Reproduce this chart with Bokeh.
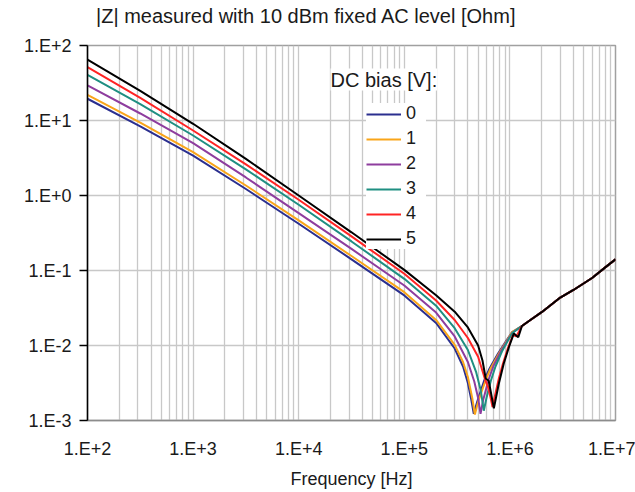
from bokeh.plotting import figure
from bokeh.models import FixedTicker, CustomJSTickFormatter, Legend, LegendItem, Label, Div
from bokeh.layouts import column
from bokeh.embed import file_html
from bokeh.resources import INLINE

# ---- data ----
bias_labels = ["0", "1", "2", "3", "4", "5"]

freq_0 = [100, 316, 1e3, 3162, 1e4, 31623, 1e5, 2e5, 3e5, 3.6e5, 4e5, 4.3e5, 4.55e5, 4.9e5, 5.7e5, 6.4e5, 7.7e5, 9.3e5, 1.05e6, 1.3e6]
z_0 = [19.5, 8.37, 3.41, 1.22, 0.420, 0.141, 0.0465, 0.0200, 0.00912, 0.00525, 0.00316, 0.00191, 0.00123, 0.00178, 0.00339, 0.00490, 0.00776, 0.0117, 0.0151, 0.0182]

freq_1 = [100, 316, 1e3, 3162, 1e4, 31623, 1e5, 2e5, 3e5, 3.6e5, 4e5, 4.4e5, 4.66e5, 5.0e5, 5.87e5, 6.55e5, 7.85e5, 9.4e5, 1.05e6, 1.3e6]
z_1 = [22.0, 9.38, 3.78, 1.36, 0.465, 0.156, 0.0514, 0.0219, 0.0102, 0.00603, 0.00380, 0.00200, 0.00120, 0.00178, 0.00339, 0.00490, 0.00776, 0.0117, 0.0151, 0.0182]

freq_2 = [100, 316, 1e3, 3162, 1e4, 31623, 1e5, 2e5, 3e5, 4e5, 4.6e5, 5.0e5, 5.27e5, 5.6e5, 6.3e5, 7.0e5, 8.2e5, 9.6e5, 1.06e6, 1.3e6]
z_2 = [29.3, 12.4, 4.98, 1.74, 0.581, 0.194, 0.0631, 0.0275, 0.0132, 0.00603, 0.00331, 0.00200, 0.00123, 0.00191, 0.00355, 0.00537, 0.00832, 0.0120, 0.0148, 0.0182]

freq_3 = [100, 316, 1e3, 3162, 1e4, 31623, 1e5, 2e5, 3e5, 4e5, 4.8e5, 5.3e5, 5.66e5, 6.0e5, 6.6e5, 7.3e5, 8.4e5, 9.7e5, 1.06e6, 1.3e6]
z_3 = [40.6, 16.5, 6.31, 2.23, 0.752, 0.244, 0.0774, 0.0339, 0.0170, 0.00871, 0.00437, 0.00251, 0.00135, 0.00200, 0.00339, 0.00525, 0.00832, 0.0120, 0.0148, 0.0182]

freq_4 = [100, 316, 1e3, 3162, 1e4, 31623, 1e5, 2e5, 3e5, 4e5, 5e5, 5.87e5, 6.2e5, 6.55e5, 6.85e5, 7.3e5, 7.86e5, 8.6e5, 9.6e5, 1.07e6, 1.15e6, 1.3e6]
z_4 = [51.4, 20.0, 7.36, 2.60, 0.877, 0.285, 0.0904, 0.0398, 0.0219, 0.0126, 0.00708, 0.00339, 0.00282, 0.00204, 0.00151, 0.00229, 0.00363, 0.00575, 0.00933, 0.0138, 0.0132, 0.0182]

freq_5 = [100, 316, 1e3, 3162, 1e4, 31623, 1e5, 2e5, 3e5, 4e5, 5e5, 5.5e5, 5.9e5, 6.3e5, 7.05e5, 7.85e5, 8.75e5, 9.8e5, 1.09e6, 1.2e6, 1.3e6]
z_5 = [65.0, 24.9, 9.04, 3.08, 1.00, 0.323, 0.102, 0.0468, 0.0282, 0.0174, 0.0100, 0.00631, 0.00363, 0.00339, 0.00145, 0.00309, 0.00575, 0.00955, 0.0145, 0.0129, 0.0182]

# common high-frequency (inductive) part, identical for every bias
tail_freq = [1.6e6, 2.0e6, 3.0e6, 4.0e6, 6.0e6, 8.0e6, 1.0e7]
tail_z = [0.0224, 0.0278, 0.0436, 0.0550, 0.0794, 0.110, 0.141]

x_ticks = [1e2, 1e3, 1e4, 1e5, 1e6, 1e7]
y_ticks = [1e-3, 1e-2, 1e-1, 1e0, 1e1, 1e2]

# ---- styles ----
colors = ["#2B2F8F", "#F9A51A", "#8E3D9E", "#1F8F82", "#FF2424", "#000000"]
FONT = "Liberation Sans"
GRID = "#c8c8c8"

title_div = Div(text="|Z| measured with 10 dBm fixed AC level [Ohm]", width=635, height=35, margin=0,
                styles={"font-family": FONT, "font-size": "20px", "color": "#1a1a1a",
                        "padding-left": "96px", "padding-top": "5px", "line-height": "22px",
                        "white-space": "nowrap", "background-color": "white"})

p = figure(width=635, height=457, x_axis_type="log", y_axis_type="log",
           x_range=(x_ticks[0], x_ticks[-1]), y_range=(y_ticks[0], y_ticks[-1]),
           output_backend="svg", toolbar_location=None, margin=0,
           min_border_left=87, min_border_right=20, min_border_top=10, min_border_bottom=72)

x_minor = [m * t for t in x_ticks[:-1] for m in range(2, 10)]
p.xaxis.ticker = FixedTicker(ticks=x_ticks, minor_ticks=x_minor)
p.yaxis.ticker = FixedTicker(ticks=y_ticks, minor_ticks=[])

fmt = CustomJSTickFormatter(code="""
const e = Math.round(Math.log10(tick));
return "1.E" + (e >= 0 ? "+" : "-") + Math.abs(e);
""")
for ax in (p.xaxis[0], p.yaxis[0]):
    ax.formatter = fmt
    ax.major_label_text_font = FONT
    ax.major_label_text_font_size = "18px"
    ax.major_label_text_color = "#1a1a1a"
    ax.minor_tick_in = 0
    ax.minor_tick_out = 0
    ax.major_tick_in = 0

p.yaxis.axis_line_color = "black"
p.yaxis.axis_line_width = 1.5
p.yaxis.major_tick_line_color = "black"
p.yaxis.major_tick_line_width = 1.5
p.yaxis.major_tick_out = 8
p.yaxis.major_label_standoff = 8

p.xaxis.axis_line_color = "#8c8c8c"
p.xaxis.axis_line_width = 1.5
p.xaxis.major_tick_out = 0
p.xaxis.major_tick_line_color = None
p.xaxis.major_label_standoff = 18
p.xaxis.axis_label = "Frequency [Hz]"
p.xaxis.axis_label_text_font = FONT
p.xaxis.axis_label_text_font_size = "18px"
p.xaxis.axis_label_text_font_style = "normal"
p.xaxis.axis_label_text_color = "#1a1a1a"
p.xaxis.axis_label_standoff = 7

p.xgrid.grid_line_color = GRID
p.xgrid.grid_line_width = 1.3
p.xgrid.minor_grid_line_color = GRID
p.xgrid.minor_grid_line_width = 1.3
p.ygrid.grid_line_color = GRID
p.ygrid.grid_line_width = 1.3

p.outline_line_color = "#a0a0a0"
p.outline_line_width = 1.5
p.background_fill_color = "white"
p.border_fill_color = "white"

series = [(freq_0, z_0), (freq_1, z_1), (freq_2, z_2), (freq_3, z_3), (freq_4, z_4), (freq_5, z_5)]
items = []
for (f, z), lab, col in zip(series, bias_labels, colors):
    r = p.line(f + tail_freq, z + tail_z, line_color=col, line_width=2)
    items.append(LegendItem(label=lab, renderers=[r]))

legend = Legend(items=items, location=(279, 171), orientation="vertical",
                background_fill_color="white", background_fill_alpha=1.0,
                border_line_color=None, padding=8, margin=0, spacing=4,
                glyph_width=35, glyph_height=20, label_height=20, label_standoff=5,
                label_text_font=FONT, label_text_font_size="18px", label_text_color="#1a1a1a")
p.add_layout(legend)

legend_title = Label(x=243, y=341, x_units="screen", y_units="screen", text="DC bias [V]:",
                     text_font=FONT, text_font_size="20px", text_color="#1a1a1a",
                     text_baseline="middle", background_fill_color="white",
                     background_fill_alpha=1.0)
p.add_layout(legend_title)

layout = column(title_div, p, spacing=0, margin=0)

open("out.html", "w").write(file_html(layout, INLINE))
